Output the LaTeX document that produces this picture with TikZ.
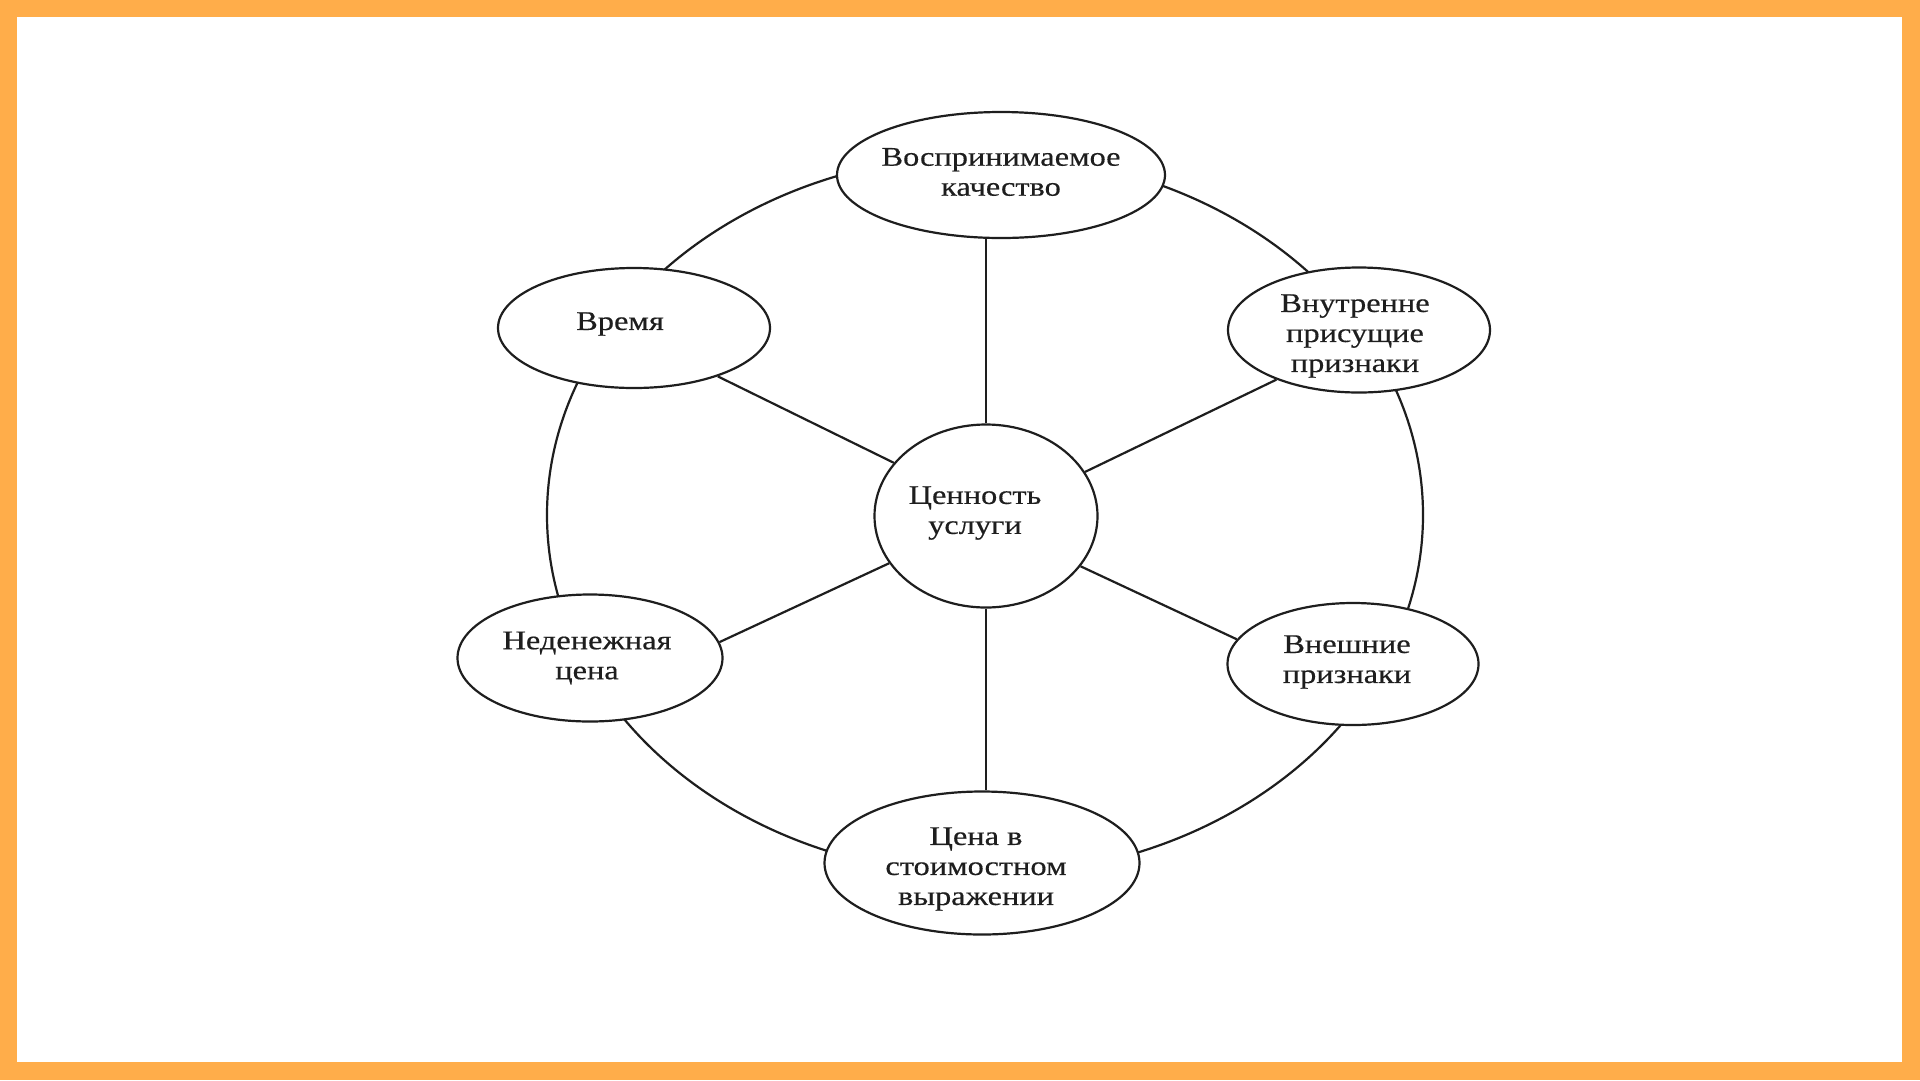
\documentclass[tikz,border=0pt]{standalone}
\usepackage{fontspec}
\setmainfont[FakeStretch=1.2,FakeBold=0.4]{Liberation Serif}
\usetikzlibrary{shapes.geometric}
\definecolor{frameorange}{HTML}{FFAD4A}
\definecolor{ink}{HTML}{1E1E1E}
\begin{document}
\begin{tikzpicture}[x=1pt,y=-1pt,
  bub/.style={ellipse, draw=ink, fill=white, inner sep=0pt, line width=2.2pt},
  txt/.style={align=center, text=ink, inner sep=0pt, font=\fontsize{27}{30}\selectfont},
  spoke/.style={draw=ink, line width=2.2pt},
  ring/.style={draw=ink, line width=2.2pt}]
\useasboundingbox (0,0) rectangle (1920,1080);
\fill[frameorange] (0,0) rectangle (1920,1080);
\fill[white] (17,17) rectangle (1902,1062);
% outer ring
\draw[ring] (985,515) ellipse [x radius=438pt, y radius=360pt];
% nodes
\node[bub, minimum width=328pt, minimum height=126pt,
  label={[txt, yshift=3pt]center:{Воспринимаемое\\качество}}] (t) at (1001,175) {};
\node[bub, minimum width=272pt, minimum height=120pt,
  label={[txt, xshift=-14pt, yshift=4pt]center:{Время}}] (w) at (634,328) {};
\node[bub, minimum width=262pt, minimum height=125pt,
  label={[txt, xshift=-4pt, yshift=-6pt]center:{Внутренне\\присущие\\признаки}}] (r) at (1359,330) {};
\node[bub, minimum width=223pt, minimum height=183pt,
  label={[txt, xshift=-11pt, yshift=3pt]center:{Ценность\\услуги}}] (c) at (986,516) {};
\node[bub, minimum width=265pt, minimum height=127pt,
  label={[txt, xshift=-3pt]center:{Неденежная\\цена}}] (l) at (590,658) {};
\node[bub, minimum width=251pt, minimum height=122pt,
  label={[txt, xshift=-6pt, yshift=2pt]center:{Внешние\\признаки}}] (e) at (1353,664) {};
\node[bub, minimum width=315pt, minimum height=143pt,
  label={[txt, xshift=-6pt, yshift=-6pt]center:{Цена в\\стоимостном\\выражении}}] (b) at (982,863) {};
% spokes
\draw[spoke] (c.north) -- (c.north |- t.south);
\draw[spoke] (c.south) -- (c.south |- b.north);
\draw[spoke] (c.150) -- (w.330);
\draw[spoke] (c.24) -- (r.211);
\draw[spoke] (c.206) -- (l.7);
\draw[spoke] (c.332) -- (e.168);
\end{tikzpicture}
\end{document}
